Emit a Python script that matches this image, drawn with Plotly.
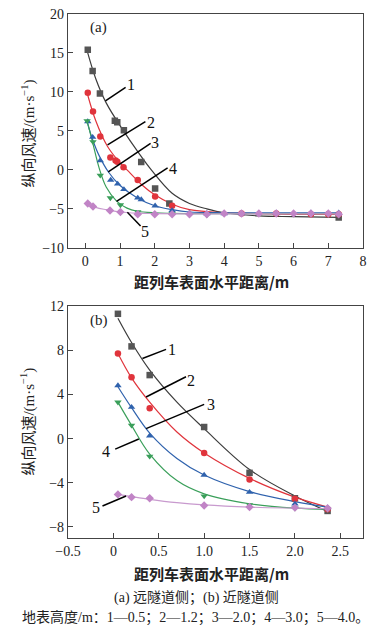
import plotly.graph_objects as go

# ---------------- (a) far-tunnel side ----------------
a1_x = [0.07, 0.21, 0.42, 0.85, 0.92, 1.11, 1.61, 2.01, 2.42, 7.3]
a1_y = [15.4, 12.7, 9.8, 6.3, 6.1, 5.1, 1.0, -2.4, -4.3, -6.1]
a2_x = [0.07, 0.22, 0.43, 0.72, 0.87, 0.92, 1.1, 1.51, 2.01, 2.5, 4.5, 5.5, 6.5, 7.0, 7.3]
a2_y = [9.9, 7.5, 4.3, 1.6, 1.2, 1.05, 0.35, -1.3, -3.4, -4.6, -5.6, -5.6, -5.7, -5.7, -5.7]
a3_x = [0.07, 0.21, 0.43, 0.73, 0.93, 1.11, 1.51, 1.61, 2.01, 2.5, 3.0, 3.5, 4.0, 4.5, 5.5, 6.5, 7.3]
a3_y = [6.2, 4.2, 1.2, -1.3, -1.8, -2.5, -3.6, -3.8, -4.6, -5.2, -5.5, -5.6, -5.6, -5.6, -5.5, -5.5, -5.5]
a4_x = [0.05, 0.22, 0.43, 0.72, 1.01, 1.51, 2.5, 3.5]
a4_y = [6.3, 3.6, -0.7, -3.6, -4.5, -5.4, -5.6, -5.8]
a5_x = [0.07, 0.22, 0.71, 1.01, 1.51, 2.0, 2.5, 3.0, 3.5, 4.0, 4.5, 5.0, 5.5, 6.0, 6.5, 7.0, 7.3]
a5_y = [-4.3, -4.7, -5.2, -5.4, -5.7, -5.7, -5.7, -5.7, -5.7, -5.6, -5.6, -5.6, -5.6, -5.6, -5.6, -5.6, -5.7]

# fitted curves (a)
fa1_x = [0.05, 0.3, 0.6, 1.1, 1.5, 1.9, 2.5, 3.0, 3.5, 4.0, 5.0, 6.0, 7.3]
fa1_y = [15.3, 11.7, 8.6, 5.0, 2.4, 0.0, -3.0, -4.3, -5.0, -5.5, -5.9, -6.0, -6.1]
fa2_x = [0.05, 0.3, 0.64, 1.0, 1.2, 1.6, 2.0, 2.5, 3.0, 4.0, 5.0, 6.0, 7.3]
fa2_y = [9.9, 6.3, 3.0, 0.9, 0.0, -1.8, -3.2, -4.4, -5.1, -5.5, -5.6, -5.7, -5.7]
fa3_x = [0.05, 0.2, 0.4, 0.67, 1.0, 1.5, 2.0, 2.5, 3.0, 4.0, 5.0, 7.3]
fa3_y = [6.2, 4.0, 1.8, -0.3, -2.0, -3.6, -4.6, -5.1, -5.4, -5.5, -5.5, -5.5]
fa4_x = [0.05, 0.2, 0.4, 0.6, 0.9, 1.2, 1.5, 2.0, 3.0, 4.0, 7.3]
fa4_y = [6.3, 3.7, 0.2, -2.2, -4.0, -4.9, -5.3, -5.5, -5.6, -5.6, -5.6]
fa5_x = [0.05, 0.3, 0.6, 1.0, 1.5, 2.0, 3.0, 5.0, 7.3]
fa5_y = [-4.3, -4.8, -5.1, -5.4, -5.55, -5.6, -5.65, -5.65, -5.65]

# ---------------- (b) near-tunnel side ----------------
b_x = [0.05, 0.2, 0.4, 1.0, 1.5, 2.0, 2.36]
b1_y = [11.3, 8.35, 5.75, 1.05, -3.1, -5.4, -6.55]
b2_y = [7.7, 5.55, 2.75, -1.3, -3.7, -5.45, -6.4]
b3_y = [4.8, 2.85, 0.25, -3.3, -4.85, -5.9, -6.25]
b4_y = [3.3, 1.2, -1.6, -5.2, -6.0, -6.3, -6.4]
b5_y = [-5.05, -5.3, -5.4, -6.05, -6.2, -6.25, -6.3]

fb_x = [0.05, 0.2, 0.4, 0.7, 1.0, 1.5, 2.0, 2.36]
fb1_y = [10.9, 8.7, 6.2, 3.3, 0.9, -2.8, -5.2, -6.6]
fb2_y = [7.7, 5.5, 3.3, 0.6, -1.3, -3.6, -5.3, -6.2]
fb3_y = [4.7, 2.8, 0.5, -1.8, -3.3, -4.8, -5.7, -6.2]
fb4_y = [3.3, 1.2, -1.4, -3.8, -5.0, -5.9, -6.3, -6.4]
fb5_y = [-5.05, -5.25, -5.5, -5.8, -6.0, -6.2, -6.3, -6.35]

a_xticks = [0, 1, 2, 3, 4, 5, 6, 7, 8]
a_yticks = [-10, -5, 0, 5, 10, 15, 20]
b_xticks = [-0.5, 0, 0.5, 1.0, 1.5, 2.0, 2.5]
b_xlabels = ["\u22120.5", "0", "0.5", "1.0", "1.5", "2.0", "2.5"]
b_yticks = [-8, -4, 0, 4, 8, 12]

labels = ["1", "2", "3", "4", "5"]
colors = ["#555555", "#e0343c", "#2f62ad", "#3a9f5a", "#c184c6"]
line_colors = ["#3c3c3c", "#e0343c", "#2f62ad", "#3a9f5a", "#c89ace"]
symbols = ["square", "circle", "triangle-up", "triangle-down", "diamond"]

SERIF = "Liberation Serif"
MIX = "Liberation Serif, Noto Sans CJK SC"
CJK = "Noto Sans CJK SC"

fig = go.Figure()

a_pts = [(a1_x, a1_y), (a2_x, a2_y), (a3_x, a3_y), (a4_x, a4_y), (a5_x, a5_y)]
a_fit = [(fa1_x, fa1_y), (fa2_x, fa2_y), (fa3_x, fa3_y), (fa4_x, fa4_y), (fa5_x, fa5_y)]
b_pts = [b1_y, b2_y, b3_y, b4_y, b5_y]
b_fit = [fb1_y, fb2_y, fb3_y, fb4_y, fb5_y]

for i in range(5):
    fig.add_trace(go.Scatter(x=a_fit[i][0], y=a_fit[i][1], mode="lines", line_shape="spline",
                             line=dict(color=line_colors[i], width=1.2), xaxis="x", yaxis="y",
                             showlegend=False, hoverinfo="skip"))
for i in range(5):
    fig.add_trace(go.Scatter(x=a_pts[i][0], y=a_pts[i][1], mode="markers",
                             marker=dict(symbol=symbols[i], color=colors[i], size=6.5),
                             xaxis="x", yaxis="y", showlegend=False, name=labels[i]))
for i in range(5):
    fig.add_trace(go.Scatter(x=fb_x, y=b_fit[i], mode="lines", line_shape="spline",
                             line=dict(color=line_colors[i], width=1.2), xaxis="x2", yaxis="y2",
                             showlegend=False, hoverinfo="skip"))
for i in range(5):
    fig.add_trace(go.Scatter(x=b_x, y=b_pts[i], mode="markers",
                             marker=dict(symbol=symbols[i], color=colors[i], size=6.5),
                             xaxis="x2", yaxis="y2", showlegend=False, name=labels[i]))

axis_common = dict(showgrid=False, zeroline=False, showline=True, linecolor="#444444", linewidth=1.2,
                   mirror=True, ticks="inside", ticklen=5, tickcolor="#444444",
                   tickfont=dict(family=SERIF, size=14, color="#222222"))

fig.update_layout(
    width=386, height=629,
    margin=dict(l=68, r=23, t=7, b=91),
    paper_bgcolor="white", plot_bgcolor="white",
    xaxis=dict(axis_common, range=[-0.5, 8], tickvals=a_xticks, domain=[0, 1], anchor="y"),
    yaxis=dict(axis_common, range=[-10, 20], tickvals=a_yticks, domain=[0.5537, 1], anchor="x"),
    xaxis2=dict(axis_common, range=[-0.5, 2.75], tickvals=b_xticks, ticktext=b_xlabels,
                domain=[0, 1], anchor="y2"),
    yaxis2=dict(axis_common, range=[-9, 12], tickvals=b_yticks, domain=[0, 0.4426], anchor="x2"),
)

# leader lines
a_leaders = [(0.58, 8.86, 1.16, 10.6), (0.64, 3.2, 1.73, 6.2), (0.66, -0.25, 1.88, 3.4),
             (0.9, -4.05, 2.37, 0.25), (1.21, -5.44, 1.59, -7.2)]
a_lab = [(1.32, 10.9), (1.88, 6.1), (2.02, 3.5), (2.52, 0.2), (1.73, -7.9)]
b_leaders = [(0.32, 7.26, 0.58, 8.08), (0.36, 3.77, 0.8, 5.6), (0.36, 0.9, 1.0, 3.1),
             (0.02, -0.95, 0.28, -0.04), (-0.12, -6.1, 0.14, -5.2)]
b_lab = [(0.65, 8.1), (0.86, 5.3), (1.07, 3.05), (-0.08, -1.2), (-0.19, -6.25)]

shapes = []
anns = []
for i in range(5):
    x0, y0, x1, y1 = a_leaders[i]
    shapes.append(dict(type="line", xref="x", yref="y", x0=x0, y0=y0, x1=x1, y1=y1,
                       line=dict(color="black", width=1.5)))
    anns.append(dict(x=a_lab[i][0], y=a_lab[i][1], xref="x", yref="y", text=labels[i],
                     showarrow=False, font=dict(family=SERIF, size=16, color="#111111")))
    x0, y0, x1, y1 = b_leaders[i]
    shapes.append(dict(type="line", xref="x2", yref="y2", x0=x0, y0=y0, x1=x1, y1=y1,
                       line=dict(color="black", width=1.5)))
    anns.append(dict(x=b_lab[i][0], y=b_lab[i][1], xref="x2", yref="y2", text=labels[i],
                     showarrow=False, font=dict(family=SERIF, size=16, color="#111111")))

# pixel -> paper conversion for free-positioned texts
plot_w = 386 - 68 - 23
plot_h = 629 - 7 - 91
def px_to_paper(px, py):
    return (px - 68) / plot_w, (629 - 91 - py) / plot_h

ytitle = "纵向风速/(m·s<sup>−1</sup>)"
xtitle = "<b>距列车表面水平距离/m</b>"
texts = [
    (88, 21, "(a)", SERIF, 15, 0, "left"),
    (88, 318, "(b)", SERIF, 15, 0, "left"),
    (28, 128, ytitle, MIX, 15, -90, "center"),
    (28, 420, ytitle, MIX, 15, -90, "center"),
    (211, 278, xtitle, CJK, 15, 0, "center"),
    (211, 574, xtitle, CJK, 15, 0, "center"),
    (196, 599, "(a) 远隧道侧；(b) 近隧道侧", MIX, 14, 0, "center"),
    (195, 619, "地表高度/m：1—0.5；2—1.2；3—2.0；4—3.0；5—4.0。", MIX, 14, 0, "center"),
]
for px, py, t, fam, sz, ang, xa in texts:
    xx, yy = px_to_paper(px, py)
    anns.append(dict(x=xx, y=yy, xref="paper", yref="paper", text=t, showarrow=False,
                     xanchor=xa, yanchor="middle", textangle=ang,
                     font=dict(family=fam, size=sz, color="#222222")))

fig.update_layout(shapes=shapes, annotations=anns)

fig.write_html("out.html", config={"displayModeBar": False},
               post_script="document.body.style.margin='0';document.body.style.overflow='hidden';")
